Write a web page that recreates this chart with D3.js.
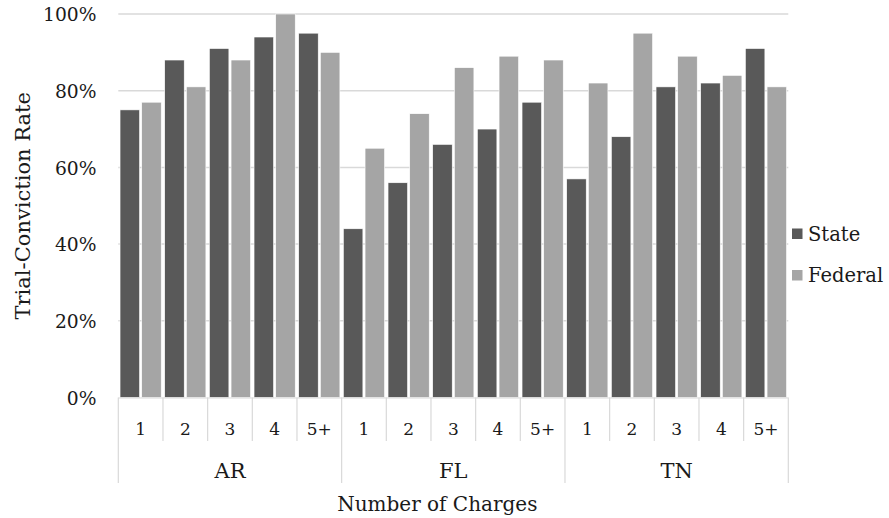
<!DOCTYPE html>
<html><head><meta charset="utf-8">
<script src="https://cdn.jsdelivr.net/npm/d3@7"></script>
<style>body{margin:0;background:#fff}svg{display:block}text{font-family:"DejaVu Serif",serif;fill:#1a1a1a}</style>
</head><body>
<svg id="c" width="889" height="518"></svg>
<script>
const groups = ["AR","FL","TN"];
const charges = ["1","2","3","4","5+"];
const series = ["State","Federal"];
const stateValues = [75,88,91,94,95, 44,56,66,70,77, 57,68,81,82,91];
const federalValues = [77,81,88,100,90, 65,74,86,89,88, 82,95,89,84,81];
const yTicks = [0,20,40,60,80,100];
const colors = ["#595959","#a5a5a5"];

const svg = d3.select("#c");
const L = 118.3, R = 788.3, T = 14, B = 397.5;
const cats = [];
groups.forEach(g => charges.forEach(c => cats.push(g + "|" + c)));
const x = d3.scaleBand().domain(cats).range([L, R]);
const inner = d3.scaleBand().domain(series).range([0, x.bandwidth()]).paddingInner(0.1).paddingOuter(0.08);
const y = d3.scaleLinear().domain([0,100]).range([B, T]);

// gridlines
svg.append("g").selectAll("line").data(yTicks.filter(d => d > 0)).join("line")
  .attr("x1", L).attr("x2", R).attr("y1", d => y(d)).attr("y2", d => y(d))
  .attr("stroke", "#d9d9d9").attr("stroke-width", 1.5);

// y axis labels
const yAxis = d3.axisLeft(y).tickValues(yTicks).tickFormat(d => d + "%").tickSize(0).tickPadding(0);
const ya = svg.append("g").attr("transform", `translate(${96.5},0)`).call(yAxis);
ya.select(".domain").remove();
ya.selectAll("text").attr("font-family", "DejaVu Serif").attr("font-size", 18.7).attr("fill", "#1a1a1a").attr("dy", "0.36em");

// bars
const rows = cats.map((c, i) => ({cat: c, vals: [stateValues[i], federalValues[i]]}));
const gBars = svg.append("g");
rows.forEach(r => {
  series.forEach((s, j) => {
    gBars.append("rect")
      .attr("x", x(r.cat) + inner(s))
      .attr("width", inner.bandwidth())
      .attr("y", y(r.vals[j]))
      .attr("height", y(0) - y(r.vals[j]))
      .attr("fill", colors[j])
      .attr("stroke", "#ffffff").attr("stroke-width", 0.6);
  });
});

// category axis
const ax = svg.append("g");
ax.append("line").attr("x1", L).attr("x2", R).attr("y1", B + 0.5).attr("y2", B + 0.5).attr("stroke", "#d9d9d9").attr("stroke-width", 1.2);
cats.forEach((c, i) => {
  const xl = x(c);
  const isGroupEdge = i % charges.length === 0;
  ax.append("line").attr("x1", xl).attr("x2", xl).attr("y1", B).attr("y2", isGroupEdge ? 483 : 441)
    .attr("stroke", "#d9d9d9").attr("stroke-width", 1.2);
  ax.append("text").attr("x", xl + x.bandwidth() / 2).attr("y", 428.5).attr("dy", "0.36em")
    .attr("text-anchor", "middle").attr("font-size", 17).text(c.split("|")[1]);
});
ax.append("line").attr("x1", R).attr("x2", R).attr("y1", B).attr("y2", 483).attr("stroke", "#d9d9d9").attr("stroke-width", 1.2);
groups.forEach((g, gi) => {
  const x0 = x(g + "|" + charges[0]), x1 = x(g + "|" + charges[charges.length - 1]) + x.bandwidth();
  ax.append("text").attr("x", (x0 + x1) / 2).attr("y", 470).attr("dy", "0.36em")
    .attr("text-anchor", "middle").attr("font-size", 21).text(g);
});

// axis titles
svg.append("text").attr("x", (L + R) / 2 - 16).attr("y", 503.5).attr("dy", "0.36em").attr("text-anchor", "middle")
  .attr("font-size", 20).text("Number of Charges");
svg.append("text").attr("transform", `translate(22.5,${(T + B) / 2}) rotate(-90)`).attr("dy", "0.36em")
  .attr("text-anchor", "middle").attr("font-size", 21).text("Trial-Conviction Rate");

// legend
const lg = svg.append("g");
series.forEach((s, j) => {
  const cy = 233.5 + j * 41.5;
  lg.append("rect").attr("x", 792).attr("y", cy - 5).attr("width", 10.5).attr("height", 10.5).attr("fill", colors[j]);
  lg.append("text").attr("x", 808).attr("y", cy).attr("dy", "0.36em").attr("font-size", 19.5).text(s);
});
</script>
</body></html>
